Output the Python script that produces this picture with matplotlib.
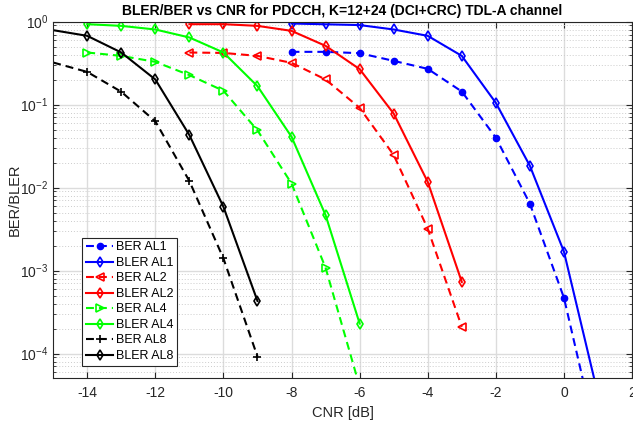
import numpy as np
import matplotlib
matplotlib.use("Agg")
import matplotlib.pyplot as plt
from matplotlib.ticker import LogLocator, NullFormatter

plt.rcParams['font.family'] = ['Liberation Sans', 'DejaVu Sans']
plt.rcParams['axes.unicode_minus'] = False
plt.rcParams['lines.dashed_pattern'] = (3.8, 2.4)

# Data (CNR in dB)
cnr_al1 = [-8, -7, -6, -5, -4, -3, -2, -1, 0, 1]
ber_al1 = [0.433, 0.433, 0.417, 0.337, 0.27, 0.144, 0.040, 0.0064, 4.7e-4, 8e-6]
bler_al1 = [0.95, 0.93, 0.91, 0.805, 0.675, 0.387, 0.105, 0.0183, 0.00169, 3.2e-5]

cnr_al2 = [-11, -10, -9, -8, -7, -6, -5, -4, -3]
ber_al2 = [0.425, 0.42, 0.387, 0.319, 0.201, 0.0915, 0.0247, 0.0032, 2.1e-4]
bler_al2 = [0.933, 0.933, 0.89, 0.775, 0.511, 0.268, 0.078, 0.0117, 7.3e-4]

cnr_al4 = [-14, -13, -12, -11, -10, -9, -8, -7, -6]
ber_al4 = [0.425, 0.387, 0.328, 0.227, 0.147, 0.049, 0.0112, 1.08e-3, 4e-5]
bler_al4 = [0.933, 0.89, 0.805, 0.645, 0.425, 0.167, 0.041, 0.00466, 2.3e-4]

cnr_al8 = [-15, -14, -13, -12, -11, -10, -9]
ber_al8 = [0.322, 0.248, 0.143, 0.063, 0.012, 1.4e-3, 9.2e-5]
bler_al8 = [0.79, 0.675, 0.425, 0.201, 0.043, 0.00587, 4.3e-4]

fig = plt.figure(figsize=(6.33, 4.25), dpi=100)
ax = fig.add_axes([0.084, 0.111, 0.9145, 0.838])

lw = 1.5
ms = 5.5
mew = 1.2
ax.plot(cnr_al1, ber_al1, '--', color='#0000ff', marker='o', ms=4.5, lw=lw, label='BER AL1')
ax.plot(cnr_al1, bler_al1, '-', color='#0000ff', marker='d', ms=ms, mfc='none', mew=mew, lw=lw, label='BLER AL1')
ax.plot(cnr_al2, ber_al2, '--', color='#ff0000', marker='<', ms=ms, mfc='none', mew=mew, lw=lw, label='BER AL2')
ax.plot(cnr_al2, bler_al2, '-', color='#ff0000', marker='d', ms=ms, mfc='none', mew=mew, lw=lw, label='BLER AL2')
ax.plot(cnr_al4, ber_al4, '--', color='#00ff00', marker='>', ms=ms, mfc='none', mew=mew, lw=lw, label='BER AL4')
ax.plot(cnr_al4, bler_al4, '-', color='#00ff00', marker='d', ms=ms, mfc='none', mew=mew, lw=lw, label='BLER AL4')
ax.plot(cnr_al8, ber_al8, '--', color='black', marker='+', ms=ms, mew=mew, lw=lw,
        markevery=slice(1, None), label='BER AL8')
ax.plot(cnr_al8, bler_al8, '-', color='black', marker='d', ms=ms, mfc='none', mew=mew, lw=lw,
        markevery=slice(1, None), label='BLER AL8')

ax.set_yscale('log')
ax.set_xlim(-15, 2)
ax.set_ylim(5.1e-5, 1)
ax.set_xticks(np.arange(-14, 3, 2))
ax.yaxis.set_major_locator(LogLocator(base=10, numticks=10))
ax.yaxis.set_minor_locator(LogLocator(base=10, subs=np.arange(2, 10), numticks=20))
ax.yaxis.set_minor_formatter(NullFormatter())

ax.grid(True, which='major', color='#dcdcdc', lw=1.0, ls='-')
ax.grid(True, which='minor', axis='y', color='#cccccc', lw=0.7, ls=(0, (1, 2)))
ax.set_axisbelow(True)

ax.tick_params(which='both', direction='in', top=True, right=True, colors='#262626', labelsize=10)
ax.tick_params(which='major', length=4)
ax.tick_params(which='minor', length=2)
ax.tick_params(axis='x', pad=6)
for s in ax.spines.values():
    s.set_color('#262626')
    s.set_linewidth(0.8)

ax.set_xlabel('CNR [dB]', fontsize=10.5, color='#262626', labelpad=4)
ax.set_ylabel('BER/BLER', fontsize=10.5, color='#262626')
ax.yaxis.set_label_coords(-0.055, 0.5)
ax.set_title('BLER/BER vs CNR for PDCCH, K=12+24 (DCI+CRC) TDL-A channel',
             fontsize=10, fontweight='bold', pad=5)

leg = ax.legend(loc='lower left', bbox_to_anchor=(0.05, 0.034), fontsize=9,
                frameon=True, fancybox=False, edgecolor='#262626', framealpha=1,
                borderpad=0.3, labelspacing=0.28, handlelength=2.2, handletextpad=0.2,
                borderaxespad=0)
leg.get_frame().set_linewidth(0.8)

fig.savefig('out.png', dpi=100)
